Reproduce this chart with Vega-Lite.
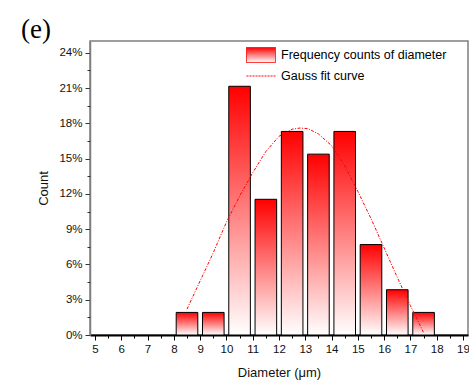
{
  "$schema": "https://vega.github.io/schema/vega-lite/v6.json",
  "width": 378,
  "height": 294,
  "autosize": {"type": "none"},
  "padding": {"left": 90, "top": 41, "right": 1, "bottom": 50},
  "background": "white",
  "title": {"text": "(e)", "anchor": "start", "frame": "group", "font": "Liberation Serif", "fontSize": 27, "fontWeight": "normal", "color": "black", "dx": -69, "dy": 29, "offset": 5, "baseline": "alphabetic"},
  "config": {
    "view": {"stroke": "#7f7f7f", "strokeWidth": 1.5},
    "axis": {"labelFont": "Liberation Sans", "titleFont": "Liberation Sans", "labelColor": "#111", "titleColor": "#111", "titleFontWeight": "normal", "grid": false}
  },
  "datasets": {
    "bars": [
      {"d": 8.5, "pct": 1.92},
      {"d": 9.5, "pct": 1.92},
      {"d": 10.5, "pct": 21.15},
      {"d": 11.5, "pct": 11.54},
      {"d": 12.5, "pct": 17.31},
      {"d": 13.5, "pct": 15.38},
      {"d": 14.5, "pct": 17.31},
      {"d": 15.5, "pct": 7.69},
      {"d": 16.5, "pct": 3.85},
      {"d": 17.5, "pct": 1.92}
    ],
    "fit": [
      {"d": 8.5, "pct": 2.2},
      {"d": 9.0, "pct": 4.6},
      {"d": 9.5, "pct": 7.0},
      {"d": 10.0, "pct": 9.6},
      {"d": 10.5, "pct": 11.8},
      {"d": 11.0, "pct": 13.8},
      {"d": 11.5, "pct": 15.6},
      {"d": 12.0, "pct": 16.9},
      {"d": 12.5, "pct": 17.5},
      {"d": 12.8, "pct": 17.6},
      {"d": 13.1, "pct": 17.55},
      {"d": 13.5, "pct": 17.1},
      {"d": 14.0, "pct": 16.1},
      {"d": 14.5, "pct": 14.4},
      {"d": 15.0, "pct": 12.2},
      {"d": 15.5, "pct": 9.9},
      {"d": 16.0, "pct": 7.4},
      {"d": 16.5, "pct": 4.9},
      {"d": 17.0, "pct": 2.5},
      {"d": 17.5, "pct": 0.2}
    ]
  },
  "layer": [
    {
      "data": {"name": "bars"},
      "mark": {
        "type": "bar",
        "width": 21.6,
        "stroke": "black",
        "strokeWidth": 1,
        "fill": {"gradient": "linear", "x1": 0, "y1": 0, "x2": 0, "y2": 1, "stops": [{"offset": 0, "color": "#ff0000"}, {"offset": 1, "color": "#ffffff"}]}
      },
      "encoding": {
        "x": {"field": "d", "type": "quantitative", "scale": {"domain": [5, 19], "nice": false, "zero": false},
          "axis": {"orient": "bottom", "title": "Diameter (μm)", "values": [5,6,7,8,9,10,11,12,13,14,15,16,17,18,19], "domainColor": "black", "domainWidth": 2, "tickColor": "black", "tickSize": 5, "tickWidth": 1, "labelFontSize": 11.5, "labelPadding": 3, "titleFontSize": 13, "titlePadding": 12, "labelFlush": false}},
        "y": {"field": "pct", "type": "quantitative", "scale": {"domain": [0, 25], "nice": false},
          "axis": {"orient": "left", "title": "Count", "values": [0,3,6,9,12,15,18,21,24], "labelExpr": "datum.value + '%'", "domainColor": "#7f7f7f", "domainWidth": 1.5, "tickColor": "#333", "tickSize": 5, "labelFontSize": 11.5, "labelPadding": 3, "titleFontSize": 13, "titlePadding": 8}}
      }
    },
    {
      "data": {"name": "fit"},
      "mark": {"type": "line", "strokeWidth": 1, "strokeDash": [3, 1.5, 1, 1.5]},
      "encoding": {
        "x": {"field": "d", "type": "quantitative", "scale": {"domain": [5, 19], "nice": false, "zero": false},
          "axis": {"orient": "bottom", "title": null, "values": [5.5,6.5,7.5,8.5,9.5,10.5,11.5,12.5,13.5,14.5,15.5,16.5,17.5,18.5], "labels": false, "domain": false, "tickColor": "black", "tickSize": 3}},
        "y": {"field": "pct", "type": "quantitative", "scale": {"domain": [0, 25], "nice": false},
          "axis": {"orient": "left", "title": null, "values": [1.5,4.5,7.5,10.5,13.5,16.5,19.5,22.5], "labels": false, "domain": false, "tickColor": "#333", "tickSize": 3}},
        "color": {
          "datum": "Gauss fit curve",
          "scale": {"domain": ["Frequency counts of diameter", "Gauss fit curve"], "range": ["#ff0000", "#ff0000"]},
          "legend": {
            "title": null,
            "orient": "none",
            "legendX": 163,
            "legendY": 6,
            "padding": 0,
            "symbolSize": 225,
            "labelOffset": 12,
            "rowPadding": 3,
            "labelFont": "Liberation Sans",
            "labelFontSize": 12.5,
            "labelColor": "black",
            "labelLimit": 300,
            "encode": {
              "symbols": {
                "update": {
                  "shape": [{"test": "datum.value === 'Gauss fit curve'", "value": "M-1.93,0H1.93"}, {"value": "M-1.93,-1H1.93V1H-1.93Z"}],
                  "fill": [{"test": "datum.value === 'Gauss fit curve'", "value": "transparent"}, {"value": {"gradient": "linear", "x1": 0, "y1": 0, "x2": 0, "y2": 1, "stops": [{"offset": 0, "color": "#ff0000"}, {"offset": 1, "color": "#ffffff"}]}}],
                  "stroke": [{"test": "datum.value === 'Gauss fit curve'", "value": "#ff0000"}, {"value": "black"}],
                  "strokeDash": [{"test": "datum.value === 'Gauss fit curve'", "value": [2, 1]}, {"value": [1, 0]}],
                  "strokeWidth": {"value": 1},
                  "opacity": {"value": 1}
                }
              }
            }
          }
        }
      }
    }
  ],
  "resolve": {"axis": {"x": "independent", "y": "independent"}}
}
